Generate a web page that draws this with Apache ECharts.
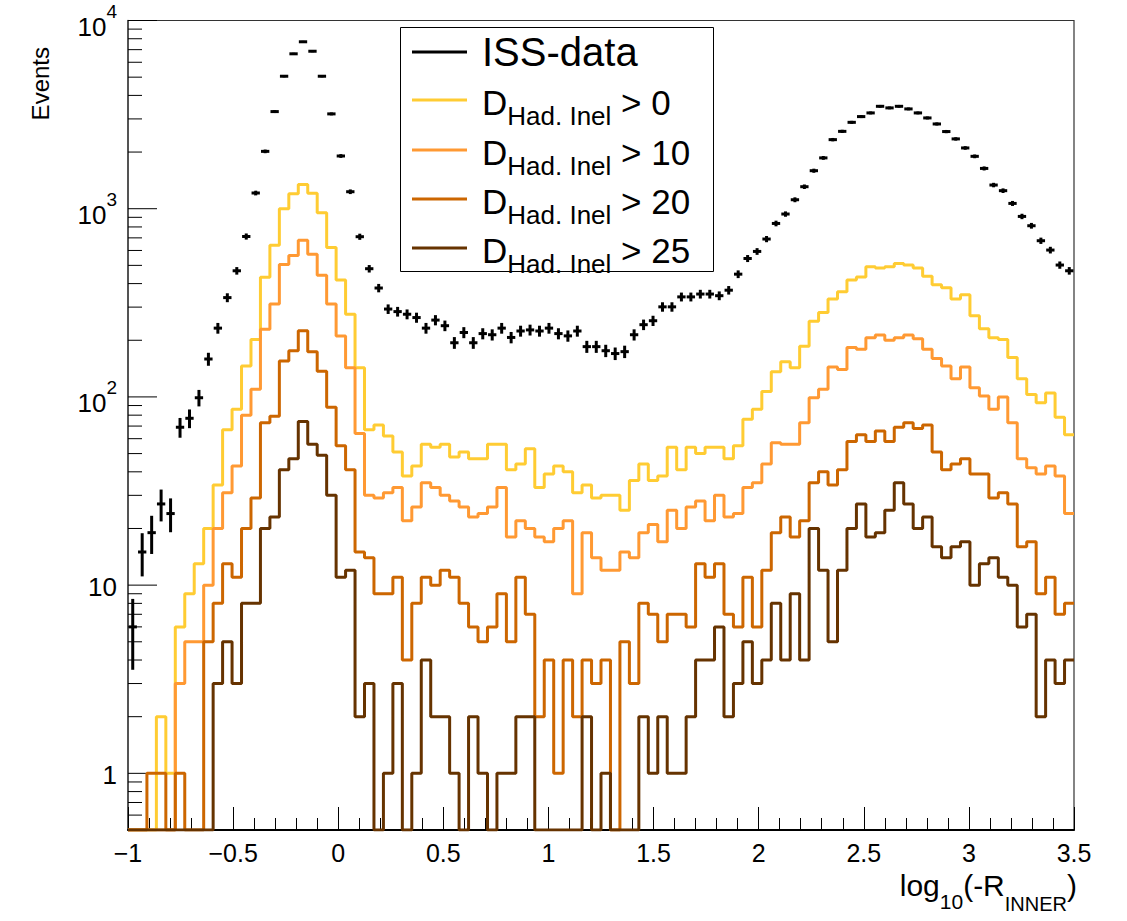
<!DOCTYPE html>
<html><head><meta charset="utf-8">
<script src="https://cdn.jsdelivr.net/npm/echarts@6/dist/echarts.min.js"></script>
<style>html,body{margin:0;padding:0;background:#fff}#c{width:1127px;height:921px}</style>
</head><body><div id="c"></div>
<script>
// ---- axis range / binning ----
const xMin = -1, xMax = 3.5, nBins = 100;
const yMin = 0.5, yMax = 10000;

// ---- data (counts per bin, 100 bins of width 0.045 from -1 to 3.5) ----
const issData = [6,15,19,27,24,69,77,99,159,232,
  337,468,712,1212,2017,3281,5057,6653,7708,6866,
  5057,3190,1906,1231,710,480,379,293,284,275,
  264,232,256,239,194,220,194,217,214,232,
  207,224,227,224,232,217,211,224,185,185,
  176,170,174,214,242,254,301,301,340,340,
  352,352,345,369,449,544,593,690,835,937,
  1116,1309,1592,1862,2328,2576,2877,3086,3228,3500,
  3433,3500,3390,3228,3036,2820,2570,2349,2103,1898,
  1637,1336,1247,1067,910,812,676,603,502,468];
const dHad0 = [0,0,0,2,1,6,9,13,20,34,
  67,86,146,202,432,640,1000,1200,1345,1210,
  953,622,418,275,143,67,71,62,51,38,
  43,56,54,56,48,51,47,47,56,56,
  41,44,53,33,39,43,40,31,34,29,
  30,30,25,36,44,36,38,54,41,54,
  50,54,54,47,55,76,86,107,136,154,
  143,186,252,281,331,362,418,434,492,484,
  492,511,503,484,438,394,380,331,349,270,
  230,206,202,162,125,103,93,105,78,63];
const dHad10 = [0,0,0,0,0,3,5,5,10,20,
  31,43,80,110,229,312,505,565,680,573,
  443,312,211,143,64,30,29,31,33,22,
  26,35,33,30,28,26,23,24,26,33,
  18,22,20,18,17,20,22,9,19,14,
  12,12,15,14,19,21,17,25,20,26,
  28,22,30,23,24,33,35,44,57,56,
  56,73,99,110,144,140,183,179,206,213,
  200,206,213,204,179,160,146,125,144,112,
  101,86,100,73,47,42,39,43,38,24];
const dHad20 = [0,0,1,1,0,1,0,0,5,8,
  13,11,20,29,73,79,155,176,225,174,
  137,88,55,41,15,14,9,9,11,4,
  8,11,10,12,11,8,6,5,6,9,
  5,11,7,2,4,1,4,2,4,3,
  4,0,5,3,8,7,5,7,7,6,
  13,11,13,7,6,11,6,12,19,23,
  18,22,35,40,34,41,58,63,58,66,
  58,69,73,68,71,51,41,44,47,39,
  39,29,31,27,16,17,9,11,7,8];
const dHad25 = [0,0,0,0,0,0,0,0,0,3,
  5,3,8,8,20,23,41,47,74,56,
  49,30,11,12,2,3,0,1,3,0,
  1,4,2,2,1,0,2,1,0,1,
  1,2,2,0,0,0,0,0,2,0,
  1,0,0,0,2,1,2,1,1,2,
  4,4,6,2,3,5,3,4,8,4,
  9,4,20,12,5,12,20,27,18,19,
  25,35,27,20,23,16,14,16,17,10,
  13,14,11,10,6,7,2,4,3,4];

const histNames = ['> 0', '> 10', '> 20', '> 25'];
const histColors = ['#ffcc33', '#ff9933', '#cc6600', '#663300'];
const histValues = [dHad0, dHad10, dHad20, dHad25];
const dataColor = '#000000';

const FONT = '"Liberation Sans", Arial, Helvetica, sans-serif';
const binW = (xMax - xMin) / nBins;

function stepData(vals) {
  const out = [];
  for (let i = 0; i < vals.length; i++) out.push([xMin + i * binW, vals[i] > 0 ? vals[i] : yMin]);
  const last = vals[vals.length - 1];
  out.push([xMin + vals.length * binW, last > 0 ? last : yMin]);
  return out;
}

// y-axis tick values (log decades with 2..9 minors)
const yTicks = [];
for (let e = -1; e <= 4; e++) {
  for (let m = 1; m <= 9; m++) {
    const v = m * Math.pow(10, e);
    if (v > yMin * 1.0001 && v <= yMax * 1.0001) yTicks.push([xMin, v, m === 1 ? 1 : 0]);
  }
}

const series = [];
histValues.forEach((vals, k) => {
  series.push({
    type: 'line', name: 'D' + histNames[k], data: stepData(vals), step: 'end',
    symbol: 'none', lineStyle: { color: histColors[k], width: 3 }, z: 3 + k,
    animation: false
  });
});
series.push({
  type: 'custom', name: 'ISS-data', z: 10, animation: false,
  data: issData.map((n, i) => [xMin + (i + 0.5) * binW, n]),
  renderItem(params, api) {
    const c = api.value(0), n = api.value(1);
    if (!(n > 0)) return null;
    const p = api.coord([c, n]);
    const l = api.coord([c - binW * 0.44, n]);
    const r = api.coord([c + binW * 0.44, n]);
    const s = Math.sqrt(n);
    const lo = api.coord([c, Math.max(n - s, yMin * 0.8)]);
    const hi = api.coord([c, n + s]);
    return { type: 'group', children: [
      { type: 'line', shape: { x1: l[0], y1: p[1], x2: r[0], y2: p[1] }, style: { stroke: dataColor, lineWidth: 3 } },
      { type: 'line', shape: { x1: p[0], y1: lo[1], x2: p[0], y2: hi[1] }, style: { stroke: dataColor, lineWidth: 3 } }
    ]};
  }
});
// y-axis ticks (major + minor) drawn through the log axis
series.push({
  type: 'custom', name: 'yticks', z: 2, silent: true, animation: false, clip: false,
  data: yTicks,
  renderItem(params, api) {
    const p = api.coord([api.value(0), api.value(1)]);
    const len = api.value(2) ? 29 : 14;
    return { type: 'line', shape: { x1: p[0], y1: p[1], x2: p[0] + len, y2: p[1] }, style: { stroke: '#000', lineWidth: 1 } };
  }
});

const option = {
  backgroundColor: '#fff',
  animation: false,
  grid: { left: 128, right: 53, top: 20, bottom: 91, show: true, borderColor: '#333', borderWidth: 1.2, backgroundColor: 'transparent' },
  xAxis: {
    type: 'value', min: xMin, max: xMax, interval: 0.5,
    axisLine: { onZero: false, lineStyle: { color: '#000', width: 2 } },
    axisTick: { inside: true, length: 23, lineStyle: { color: '#000', width: 1 } },
    minorTick: { show: true, splitNumber: 5, length: 12, lineStyle: { color: '#000', width: 1 } },
    splitLine: { show: false },
    axisLabel: {
      margin: 10, fontSize: 25, color: '#000', fontFamily: FONT,
      formatter: v => (v < 0 ? '\u2212' + Math.abs(v) : String(v))
    }
  },
  yAxis: {
    type: 'log', logBase: 10, min: yMin, max: yMax,
    axisLine: { show: true, onZero: false, lineStyle: { color: '#444', width: 1.5 } },
    axisTick: { show: false },
    splitLine: { show: false },
    axisLabel: {
      margin: 11, color: '#000', fontFamily: FONT,
      formatter: v => {
        const e = Math.round(Math.log10(v));
        if (Math.abs(v - Math.pow(10, e)) > 1e-6 * Math.pow(10, e)) return '';
        if (e === 0) return '{p|1}';
        if (e === 1) return '{p|10}';
        return '{b|10}{s|' + e + '}';
      },
      rich: {
        p: { fontSize: 26, fontFamily: FONT, color: '#000', padding: [4, 0, 0, 0] },
        b: { fontSize: 26, fontFamily: FONT, color: '#000', lineHeight: 28, padding: [12, 0, 0, 0] },
        s: { fontSize: 19, fontFamily: FONT, color: '#000', lineHeight: 18, padding: [2, 0, 20, 0] }
      }
    }
  },
  series: series,
  graphic: [
    { type: 'text', x: 40, y: 47, rotation: Math.PI / 2,
      style: { text: 'Events', font: '24px ' + FONT, fill: '#000', align: 'right', verticalAlign: 'middle' } },
    { type: 'text', x: 1077, y: 892,
      style: { text: '{m|log}{s|10}{m|(-R}{t|INNER}{m|)}', align: 'right', verticalAlign: 'middle',
        rich: {
          m: { fontSize: 30, fontFamily: FONT, fill: '#000', lineHeight: 30, padding: [0, 0, 14, 0] },
          s: { fontSize: 21, fontFamily: FONT, fill: '#000', lineHeight: 22, padding: [20, 0, 2, 0] },
          t: { fontSize: 20, fontFamily: FONT, fill: '#000', lineHeight: 20, padding: [24, 0, 0, 0] }
        } } },
    // legend
    { type: 'rect', z: 20, shape: { x: 400.5, y: 27.5, width: 313, height: 244 }, style: { fill: '#fff', stroke: '#000', lineWidth: 1 } },
    { type: 'line', z: 21, shape: { x1: 412, y1: 52, x2: 467, y2: 52 }, style: { stroke: dataColor, lineWidth: 3 } },
    { type: 'text', z: 21, x: 482, y: 52, style: { text: 'ISS-data', font: '40px ' + FONT, fill: '#000', verticalAlign: 'middle' } }
  ].concat(histNames.flatMap((nm, k) => {
    const yy = [100, 150, 199, 248][k];
    return [
      { type: 'line', z: 21, shape: { x1: 412, y1: yy, x2: 467, y2: yy }, style: { stroke: histColors[k], lineWidth: 3 } },
      { type: 'text', z: 21, x: 482, y: yy + 7, style: {
        text: '{m|D}{s|Had. Inel}{m| ' + nm + '}', verticalAlign: 'middle',
        rich: {
          m: { fontSize: 35, fontFamily: FONT, fill: '#000', lineHeight: 34, padding: [0, 0, 10, 0] },
          s: { fontSize: 26, fontFamily: FONT, fill: '#000', lineHeight: 26, padding: [18, 0, 0, 0] }
        } } }
    ];
  }))
};

const chart = echarts.init(document.getElementById('c'), null, { renderer: 'svg', width: 1127, height: 921 });
chart.setOption(option);
</script>
</body></html>
